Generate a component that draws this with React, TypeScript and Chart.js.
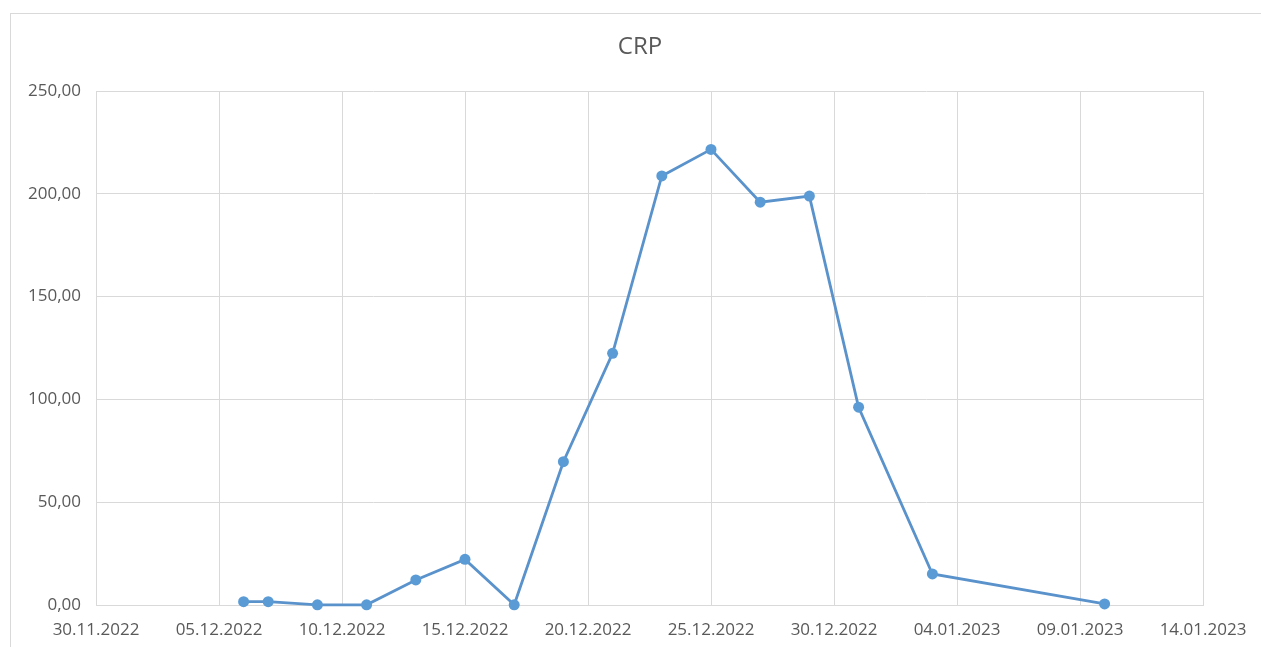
import React, { useEffect, useRef } from "react";
import { Chart, registerables } from "chart.js";

Chart.register(...registerables);

const TITLE = "CRP";

// measurement dates
const dates = [
  "06.12.2022",
  "07.12.2022",
  "09.12.2022",
  "11.12.2022",
  "13.12.2022",
  "15.12.2022",
  "17.12.2022",
  "19.12.2022",
  "21.12.2022",
  "23.12.2022",
  "25.12.2022",
  "27.12.2022",
  "29.12.2022",
  "31.12.2022",
  "03.01.2023",
  "10.01.2023",
];

// CRP values
const crpValues = [
  1.6, 1.6, 0.1, 0.1, 12.2, 22.2, 0.1, 69.7, 122.4, 208.7, 221.6, 195.9, 198.9, 96.2, 15.1, 0.5,
];

// x axis tick labels (every 5 days)
const xTickLabels = [
  "30.11.2022",
  "05.12.2022",
  "10.12.2022",
  "15.12.2022",
  "20.12.2022",
  "25.12.2022",
  "30.12.2022",
  "04.01.2023",
  "09.01.2023",
  "14.01.2023",
];

const Y_MIN = 0;
const Y_MAX = 250;
const Y_STEP = 50;

function parseDate(s: string): number {
  const [d, m, y] = s.split(".").map(Number);
  return Date.UTC(y, m - 1, d);
}

const BASE = parseDate(xTickLabels[0]);
const DAY = 86400000;
const dayOffset = (s: string) => Math.round((parseDate(s) - BASE) / DAY);
const X_STEP = dayOffset(xTickLabels[1]);
const X_MAX = dayOffset(xTickLabels[xTickLabels.length - 1]);

const TEXT = "#595959";
const GRID = "#D9D9D9";
const LINE = "#5A92CC";
const MARKER = "#5B9BD5";
const FONT = "'Open Sans', 'Liberation Sans', sans-serif";

// Excel-style chart frame and centred chart title
const frameAndTitle = {
  id: "frameAndTitle",
  beforeDraw(chart: any) {
    const ctx = chart.ctx;
    ctx.save();
    ctx.strokeStyle = GRID;
    ctx.lineWidth = 1;
    ctx.strokeRect(10.5, 13.5, chart.width + 20, chart.height + 20);
    ctx.fillStyle = TEXT;
    ctx.font = `normal 24px ${FONT}`;
    ctx.textAlign = "center";
    ctx.textBaseline = "middle";
    ctx.fillText(TITLE, 640, 47);
    ctx.restore();
  },
};

export default function App() {
  const canvasRef = useRef<HTMLCanvasElement | null>(null);

  useEffect(() => {
    if (!canvasRef.current) return;
    const points = dates.map((d, i) => ({ x: dayOffset(d), y: crpValues[i] }));
    const chart = new Chart(canvasRef.current, {
      type: "line",
      data: {
        datasets: [
          {
            label: TITLE,
            data: points,
            borderColor: LINE,
            backgroundColor: MARKER,
            borderWidth: 2.8,
            pointRadius: 5.5,
            pointBorderWidth: 0,
            pointBackgroundColor: MARKER,
            tension: 0,
            fill: false,
            clip: false as any,
          },
        ],
      },
      options: {
        animation: false,
        responsive: false,
        devicePixelRatio: 1,
        layout: { padding: { left: 20, right: 58, top: 91, bottom: 0 } },
        plugins: {
          legend: { display: false },
          tooltip: { enabled: false },
          title: { display: false },
        },
        scales: {
          x: {
            type: "linear",
            min: 0,
            max: X_MAX,
            ticks: {
              stepSize: X_STEP,
              autoSkip: false,
              maxRotation: 0,
              minRotation: 0,
              color: TEXT,
              padding: 12,
              font: { family: FONT, size: 17, lineHeight: 1.5 },
              callback: (v: any) => {
                const idx = Math.round(Number(v) / X_STEP);
                return xTickLabels[idx] ?? "";
              },
            },
            grid: { color: GRID, lineWidth: 1, drawTicks: false },
            border: { color: GRID, width: 1 },
            afterFit: (s: any) => {
              s.height = 42;
            },
          },
          y: {
            min: Y_MIN,
            max: Y_MAX,
            ticks: {
              stepSize: Y_STEP,
              color: TEXT,
              padding: 15,
              font: { family: FONT, size: 17 },
              callback: (v: any) => Number(v).toFixed(2).replace(".", ","),
            },
            grid: { color: GRID, lineWidth: 1, drawTicks: false },
            border: { color: GRID, width: 1 },
            afterFit: (s: any) => {
              s.width = 76;
            },
          },
        },
      },
      plugins: [frameAndTitle],
    });
    return () => chart.destroy();
  }, []);

  return (
    <div style={{ position: "absolute", left: 0, top: 0, width: 1261, height: 647, background: "#fff" }}>
      <canvas ref={canvasRef} width={1261} height={647} style={{ display: "block" }} />
    </div>
  );
}
